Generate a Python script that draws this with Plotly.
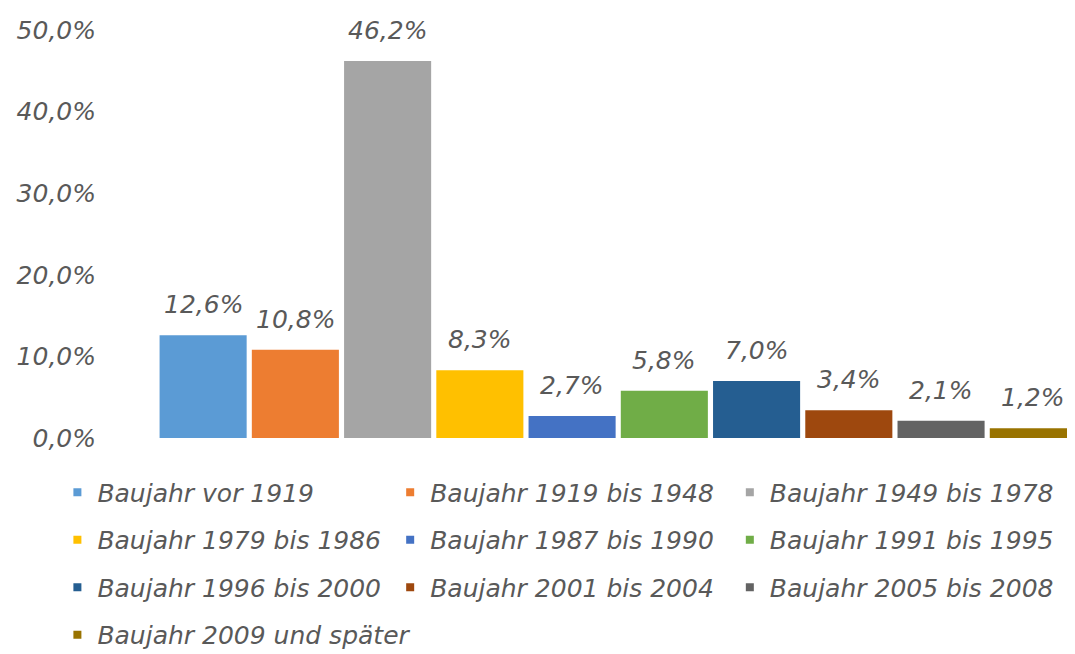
import plotly.graph_objects as go

categories = ["Baujahr vor 1919", "Baujahr 1919 bis 1948", "Baujahr 1949 bis 1978",
              "Baujahr 1979 bis 1986", "Baujahr 1987 bis 1990", "Baujahr 1991 bis 1995",
              "Baujahr 1996 bis 2000", "Baujahr 2001 bis 2004", "Baujahr 2005 bis 2008",
              "Baujahr 2009 und später"]
values = [12.6, 10.8, 46.2, 8.3, 2.7, 5.8, 7.0, 3.4, 2.1, 1.2]
colors = ["#5B9BD5", "#ED7D31", "#A5A5A5", "#FFC000", "#4472C4", "#70AD47",
          "#255E91", "#9E480E", "#636363", "#997300"]
tick_vals = [0, 10, 20, 30, 40, 50]
tick_text = ["0,0%", "10,0%", "20,0%", "30,0%", "40,0%", "50,0%"]
legend_columns = [[0, 3, 6, 9], [1, 4, 7], [2, 5, 8]]

FONT = "DejaVu Sans"
GRAY = "#595959"

fig = go.Figure()
for i, (name, v, c) in enumerate(zip(categories, values, colors)):
    fig.add_trace(go.Bar(x=[i], y=[v], width=[0.944], marker=dict(color=c, line=dict(width=0)),
                         name=name, showlegend=False, hoverinfo="skip", cliponaxis=False))

legend_ids = ["legend", "legend2", "legend3"]
for col, idxs in enumerate(legend_columns):
    for i in idxs:
        fig.add_trace(go.Scatter(x=[None], y=[None], mode="markers", name=categories[i],
                                 marker=dict(symbol="square", size=8, color=colors[i]),
                                 legend=legend_ids[col], legendgroup=categories[i],
                                 showlegend=True))

for i, v in enumerate(values):
    fig.add_annotation(x=i, y=v, text=f"{v:.1f}".replace(".", ",") + "%", showarrow=False,
                       yanchor="bottom", yshift=14,
                       font=dict(family=FONT, size=25, color=GRAY, style="italic"))

legend_font = dict(family=FONT, size=25, color=GRAY, style="italic")
leg_common = dict(orientation="v", yanchor="top", y=-0.077, xanchor="left",
                  font=legend_font, tracegroupgap=12, bgcolor="rgba(0,0,0,0)",
                  itemclick=False, itemdoubleclick=False)

fig.update_layout(
    width=1067, height=646,
    margin=dict(l=149, r=0, t=22, b=216, autoexpand=False),
    paper_bgcolor="white", plot_bgcolor="white",
    barmode="overlay",
    showlegend=True,
    legend=dict(x=-0.1085, **leg_common),
    legend2=dict(x=0.254, **leg_common),
    legend3=dict(x=0.624, **leg_common),
    xaxis=dict(range=[-0.5, 9.452], showticklabels=False, showgrid=False, zeroline=False,
               showline=False, fixedrange=True),
    yaxis=dict(range=[0, 50], tickvals=tick_vals, ticktext=tick_text, showgrid=False,
               zeroline=False, showline=False, ticklabelstandoff=60, automargin=False,
               tickfont=dict(family=FONT, size=25, color=GRAY, style="italic")),
)

fig.write_html("out.html")
